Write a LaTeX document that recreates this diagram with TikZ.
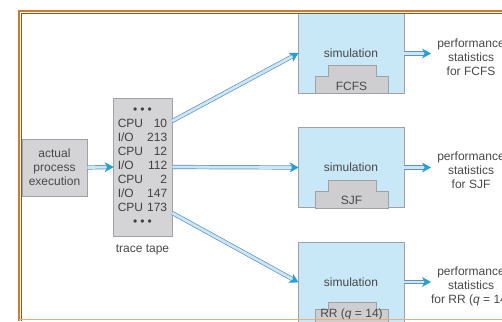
\documentclass[tikz,border=0pt]{standalone}
\usepackage{fontspec}
\setmainfont{Liberation Sans}
\usepackage{xcolor}
\usepackage{tikz}
\usetikzlibrary{decorations.markings}

\definecolor{tapegray}{RGB}{212,212,214}
\definecolor{edgegray}{RGB}{160,160,166}
\definecolor{simblue}{RGB}{200,232,248}
\definecolor{stepgray}{RGB}{206,206,208}
\definecolor{flowedge}{RGB}{100,145,180}
\definecolor{flowcore}{RGB}{200,231,248}
\definecolor{flowhead}{RGB}{35,160,215}
\definecolor{framecol}{RGB}{215,120,40}
\definecolor{textgray}{RGB}{72,72,72}

\tikzset{
  graybox/.style={draw=edgegray, fill=tapegray, line width=0.6pt, inner sep=0pt},
  simbox/.style={draw=edgegray, fill=simblue, line width=0.6pt, inner sep=0pt,
    minimum width=106pt, minimum height=80pt},
  stepshape/.style={draw=edgegray, fill=stepgray, line width=0.6pt},
  flow/.style={
    preaction={draw=flowedge, line width=0.7pt, double=flowcore,
      double distance=2.8pt, shorten >=6pt},
    decoration={markings, mark=at position 1 with
      {\fill[flowhead] (1pt,0) -- (-8pt,5pt) -- (-5.5pt,0) -- (-8pt,-5pt) -- cycle;}},
    postaction={decorate}}
}

\newcommand{\tapedots}{\textbullet\hspace{3pt}\textbullet\hspace{3pt}\textbullet}

\begin{document}
\begin{tikzpicture}[x=1pt, y=-1pt, font=\fontsize{12}{14}\selectfont, text=textgray]
  % Fix the page size
  \useasboundingbox (0,0) rectangle (502,321);
  \clip (0,0) rectangle (502,321);

  % Draw the process and the trace tape
  \node[graybox, minimum width=65pt, minimum height=57pt, align=center] (proc) at (54.5,167.5)
    {actual\\process\\execution};
  \node[graybox, minimum width=59pt, minimum height=138pt, text=black!75] (tape) at (142.5,167) {
    \begin{tabular}{@{}l@{\hspace{4pt}}r@{}}
      \multicolumn{2}{c}{\tapedots} \\
      CPU & 10 \\
      I/O & 213 \\
      CPU & 12 \\
      I/O & 112 \\
      CPU & 2 \\
      I/O & 147 \\
      CPU & 173 \\
      \multicolumn{2}{c}{\tapedots} \\
    \end{tabular}
  };
  \node (tapelabel) at (142.5,250) {trace tape};

  % Draw the three simulations
  \node[simbox] (simfcfs) at (351,53.5) {simulation};
  \node[simbox] (simsjf) at (351,167.5) {simulation};
  \node[simbox] (simrr) at (351,282) {simulation};

  % Draw the scheduler blocks
  \draw[stepshape] (315,93) -- (315,76) -- (328,76) -- (328,65) -- (376,65) -- (376,76) -- (388,76) -- (388,93) -- cycle;
  \draw[stepshape] (315,208) -- (315,191) -- (328,191) -- (328,180) -- (376,180) -- (376,191) -- (388,191) -- (388,208) -- cycle;
  \draw[stepshape] (315,322) -- (315,309) -- (328,309) -- (328,302) -- (376,302) -- (376,309) -- (388,309) -- (388,322) -- cycle;
  \node (fcfs) at (351.5,86.5) {FCFS};
  \node (sjf) at (351.5,200.5) {SJF};
  \node (rr) at (351.5,314.5) {RR (\textit{q} = 14)};

  % Add the statistics
  \node[align=center] (perffcfs) at (471,57) {performance\\statistics\\for FCFS};
  \node[align=center] (perfsjf) at (471,170) {performance\\statistics\\for SJF};
  \node[align=center] (perfrr) at (471,286) {performance\\statistics\\for RR (\textit{q} = 14)};
  \coordinate (outfcfs) at (430,53.5);
  \coordinate (outsjf) at (430,167.5);
  \coordinate (outrr) at (430,282);

  % Draw the arrows
  \path[flow] (proc.east) -- (tape.west);
  \path[flow] ([yshift=46pt]tape.east) -- (simfcfs.west);
  \path[flow] (tape.east) -- (simsjf.west);
  \path[flow] ([yshift=-46pt]tape.east) -- (simrr.west);
  \path[flow] (simfcfs.east) -- (outfcfs);
  \path[flow] (simsjf.east) -- (outsjf);
  \path[flow] (simrr.east) -- (outrr);

  % Draw the frame
  \draw[framecol, line width=2pt] (19,321) -- (19,11) -- (502,11);
  \draw[framecol!70!black, line width=0.5pt] (21.6,321) -- (21.6,13.6) -- (502,13.6);
  \draw[framecol!60, line width=1pt] (19,319) -- (502,319);
\end{tikzpicture}
\end{document}
